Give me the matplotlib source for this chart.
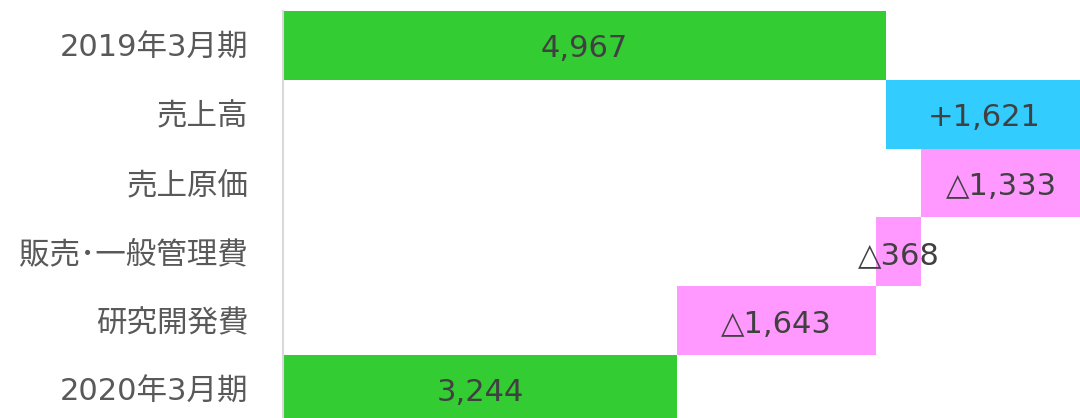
import matplotlib
matplotlib.use("Agg")
import matplotlib.pyplot as plt

# DejaVu first for the wide digits, CJK fallback for the kanji
plt.rcParams['font.family'] = ['DejaVu Sans', 'Noto Sans CJK JP']

# waterfall data (百万円)
categories = ['2019年3月期', '売上高', '売上原価', '販売･一般管理費', '研究開発費', '2020年3月期']
changes = [4967, 1621, -1333, -368, -1643, 3244]
kinds = ['total', 'up', 'down', 'down', 'down', 'total']
value_labels = ['4,967', '+1,621', '△1,333', '△368', '△1,643', '3,244']

colors = {'total': '#33CC33', 'up': '#33CCFF', 'down': '#FF99FF'}

# compute bar starts / widths
lefts, widths = [], []
running = 0
for c, k in zip(changes, kinds):
    if k == 'total':
        lefts.append(0)
        widths.append(c)
        running = c
    elif c >= 0:
        lefts.append(running)
        widths.append(c)
        running += c
    else:
        running += c
        lefts.append(running)
        widths.append(-c)

fig = plt.figure(figsize=(10.8, 4.18), dpi=100)
ax = fig.add_axes([0.262, 1 - 423.8 / 418, 0.738, (423.8 - 11) / 418])

y = range(len(categories))
ax.barh(y, widths, left=lefts, height=1.0,
        color=[colors[k] for k in kinds], linewidth=0)

# labels sit a little below the bar centre in the original
for i, (l, w, t) in enumerate(zip(lefts, widths, value_labels)):
    ax.text(l + w / 2, i + 0.05, t, ha='center', va='center',
            fontsize=22, color='#404040')

ax.set_ylim(len(categories) - 0.5, -0.5)
ax.set_xlim(0, 4967 * 797 / 603)
ax.set_yticks(list(y))
ax.set_yticklabels(categories, fontsize=22, color='#595959')
ax.tick_params(axis='y', length=0, pad=25)
ax.set_xticks([])
for s in ['top', 'right', 'bottom']:
    ax.spines[s].set_visible(False)
ax.spines['left'].set_color('#D9D9D9')
ax.spines['left'].set_linewidth(1.5)

fig.savefig('out.png', dpi=100)
